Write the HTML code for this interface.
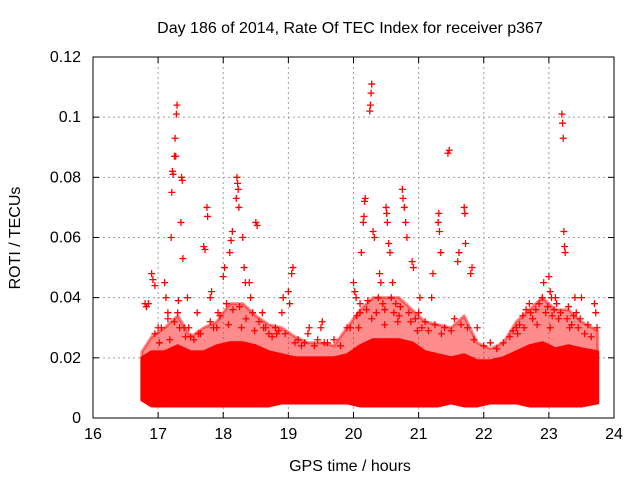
<!DOCTYPE html>
<html><head><meta charset="utf-8">
<style>
body{margin:0;background:#fff;}
svg text{font-family:"Liberation Sans",sans-serif;font-size:16px;fill:#000;}
</style></head>
<body>
<svg id="chart" width="640" height="480" xmlns="http://www.w3.org/2000/svg">
<rect width="640" height="480" fill="#fff"/>
<text x="350" y="33" text-anchor="middle">Day 186 of 2014, Rate Of TEC Index for receiver p367</text>
<text x="350" y="471" text-anchor="middle">GPS time / hours</text>
<text x="20" y="238" text-anchor="middle" transform="rotate(-90 20 238)">ROTI / TECUs</text>
<g id="grid"></g>
<g id="band"></g>
<g id="marks"></g>
<g id="axes"></g>
</svg>
<script>
const xTicks=[16,17,18,19,20,21,22,23,24];
const yTicks=[0,0.02,0.04,0.06,0.08,0.1,0.12];
const yTickLabels=["0","0.02","0.04","0.06","0.08","0.1","0.12"];
const bandTimes=[16.75,16.9,17.1,17.3,17.5,17.7,17.9,18.1,18.3,18.5,18.7,18.9,19.1,19.3,19.5,19.7,19.9,20.1,20.3,20.5,20.7,20.9,21.1,21.3,21.5,21.7,21.9,22.1,22.3,22.5,22.7,22.9,23.1,23.3,23.5,23.75];
const bandLow=[0.006,0.004,0.004,0.004,0.004,0.004,0.004,0.004,0.004,0.004,0.004,0.005,0.005,0.005,0.005,0.005,0.005,0.004,0.004,0.004,0.004,0.004,0.004,0.004,0.005,0.004,0.004,0.005,0.005,0.005,0.004,0.004,0.004,0.004,0.004,0.005];
const bandHigh=[0.02,0.022,0.022,0.024,0.022,0.022,0.024,0.025,0.025,0.024,0.022,0.021,0.02,0.02,0.02,0.02,0.021,0.024,0.026,0.026,0.026,0.025,0.022,0.021,0.02,0.021,0.019,0.019,0.02,0.022,0.024,0.025,0.023,0.024,0.023,0.022];
const midHigh=[0.022,0.027,0.03,0.034,0.027,0.03,0.032,0.038,0.038,0.034,0.031,0.03,0.027,0.025,0.025,0.024,0.03,0.036,0.04,0.04,0.04,0.036,0.032,0.031,0.03,0.034,0.025,0.023,0.025,0.032,0.036,0.04,0.036,0.036,0.032,0.029];
const ptTimes=[16.8,16.82,16.85,16.9,16.92,16.95,17.0,17.02,17.1,17.12,17.15,17.2,17.21,17.22,17.23,17.25,17.26,17.27,17.28,17.29,17.3,17.31,17.33,17.35,17.36,17.37,17.38,17.45,17.47,17.6,17.62,17.7,17.72,17.75,17.76,17.8,17.82,17.9,17.92,18.0,18.02,18.1,18.12,18.14,18.2,18.21,18.22,18.23,18.24,18.3,18.32,18.34,18.4,18.42,18.5,18.52,18.6,18.62,18.8,18.82,18.9,18.92,19.0,19.02,19.05,19.07,19.3,19.32,19.5,19.52,19.6,19.9,20.0,20.02,20.04,20.1,20.12,20.15,20.16,20.17,20.18,20.25,20.26,20.27,20.28,20.3,20.32,20.4,20.42,20.5,20.51,20.52,20.54,20.56,20.6,20.75,20.76,20.78,20.8,20.82,20.9,20.92,21.0,21.02,21.2,21.22,21.3,21.31,21.32,21.34,21.4,21.45,21.47,21.6,21.62,21.7,21.71,21.72,21.8,21.82,21.9,22.1,22.5,22.52,22.7,22.72,22.9,22.92,23.0,23.02,23.04,23.1,23.12,23.2,23.21,23.22,23.23,23.24,23.25,23.4,23.42,23.5,23.7,23.72,23.74];
const ptValues=[0.038,0.037,0.038,0.048,0.046,0.044,0.03,0.025,0.045,0.04,0.035,0.06,0.075,0.082,0.081,0.087,0.093,0.087,0.101,0.104,0.035,0.039,0.03,0.065,0.08,0.079,0.053,0.04,0.03,0.035,0.028,0.057,0.056,0.07,0.067,0.04,0.042,0.03,0.035,0.047,0.05,0.055,0.059,0.062,0.073,0.08,0.078,0.076,0.07,0.06,0.05,0.045,0.045,0.04,0.065,0.064,0.035,0.03,0.03,0.028,0.035,0.04,0.042,0.038,0.048,0.05,0.028,0.03,0.03,0.032,0.025,0.03,0.045,0.042,0.04,0.035,0.055,0.065,0.067,0.072,0.073,0.102,0.104,0.108,0.111,0.062,0.06,0.048,0.045,0.07,0.068,0.065,0.058,0.055,0.045,0.076,0.073,0.07,0.065,0.06,0.052,0.05,0.035,0.04,0.04,0.048,0.065,0.068,0.062,0.055,0.03,0.088,0.089,0.052,0.055,0.07,0.068,0.058,0.048,0.05,0.03,0.025,0.03,0.028,0.038,0.035,0.04,0.045,0.047,0.042,0.04,0.04,0.038,0.101,0.098,0.093,0.062,0.057,0.055,0.04,0.035,0.04,0.038,0.035,0.03];
const medTimes=[16.95,17.05,17.15,17.25,17.4,17.5,17.55,17.65,17.8,17.85,17.95,18.05,18.15,18.25,18.35,18.45,18.55,18.65,18.7,18.75,18.85,18.95,19.1,19.15,19.2,19.25,19.4,19.45,19.55,19.7,19.8,19.95,20.05,20.1,20.2,20.22,20.35,20.38,20.45,20.48,20.58,20.62,20.65,20.7,20.72,20.85,20.88,20.95,21.05,21.1,21.15,21.25,21.35,21.5,21.55,21.65,21.75,21.85,22.0,22.2,22.3,22.4,22.45,22.55,22.6,22.65,22.75,22.8,22.85,22.95,22.98,23.05,23.08,23.15,23.18,23.28,23.3,23.35,23.38,23.45,23.48,23.55,23.6,23.65,17.18,17.42,18.08,18.28,18.48,20.08,20.28,20.48,20.68,20.98,22.62,22.82,23.02,23.32];
const medValues=[0.028,0.03,0.033,0.032,0.03,0.027,0.026,0.028,0.032,0.03,0.034,0.038,0.036,0.037,0.033,0.035,0.032,0.03,0.028,0.027,0.029,0.028,0.025,0.026,0.024,0.025,0.024,0.026,0.025,0.026,0.024,0.03,0.034,0.038,0.036,0.039,0.035,0.04,0.038,0.036,0.04,0.035,0.038,0.034,0.037,0.035,0.032,0.033,0.03,0.032,0.029,0.031,0.028,0.029,0.033,0.031,0.03,0.026,0.024,0.023,0.025,0.027,0.029,0.031,0.034,0.036,0.033,0.036,0.038,0.035,0.037,0.034,0.036,0.033,0.035,0.033,0.037,0.031,0.034,0.03,0.033,0.028,0.031,0.027,0.026,0.027,0.031,0.03,0.029,0.03,0.033,0.031,0.032,0.029,0.03,0.031,0.03,0.03];

const L=93,R=614,T=57,B=418;
const xs=v=>L+(v-16)/8*(R-L);
const ys=v=>B-v/0.12*(B-T);
const NS="http://www.w3.org/2000/svg";
function mk(tag,attrs,parent){const e=document.createElementNS(NS,tag);for(const k in attrs)e.setAttribute(k,attrs[k]);parent.appendChild(e);return e;}
const grid=document.getElementById('grid'),axes=document.getElementById('axes'),band=document.getElementById('band'),marks=document.getElementById('marks');
xTicks.forEach((t,i)=>{
  const x=xs(t);
  if(i>0&&i<xTicks.length-1){const g=mk('line',{x1:x,x2:x,y1:T,y2:B,stroke:'#a0a0a0','stroke-dasharray':'2,3'},grid);
  
  }
  mk('line',{x1:x,x2:x,y1:B,y2:B-6,stroke:'#000'},axes);
  mk('line',{x1:x,x2:x,y1:T,y2:T+6,stroke:'#000'},axes);
  const tx=mk('text',{x:x,y:B+21,'text-anchor':'middle'},axes);tx.textContent=t;
  
  
});
yTicks.forEach((t,i)=>{
  const y=ys(t);
  if(i>0&&i<yTicks.length-1){const g=mk('line',{x1:L,x2:R,y1:y,y2:y,stroke:'#a0a0a0','stroke-dasharray':'2,3'},grid);
  
  }
  mk('line',{x1:L,x2:L+6,y1:y,y2:y,stroke:'#000'},axes);
  mk('line',{x1:R,x2:R-6,y1:y,y2:y,stroke:'#000'},axes);
  const tx=mk('text',{x:L-12,y:y+5,'text-anchor':'end'},axes);tx.textContent=yTickLabels[i];
  
  
});
const fr=mk('rect',{x:L,y:T,width:R-L,height:B-T,fill:'none',stroke:'#000'},axes);


function area(hi,lo,op,name){
  let d='M'+bandTimes.map((t,i)=>xs(t)+','+ys(hi[i])).join('L');
  for(let i=bandTimes.length-1;i>=0;i--)d+='L'+xs(bandTimes[i])+','+ys(lo[i]);
  const p=mk('path',{d:d+'Z',fill:'#ff0000','fill-opacity':op,stroke:'#ff0000','stroke-width':3,'stroke-linejoin':'round','stroke-opacity':op},band);
  
  
}
area(midHigh,bandHigh,0.45,'sparse-points-band');
area(bandHigh,bandLow,1,'dense-points-band');
function plus(t,v,name){
  const x=xs(t),y=ys(v);
  const p=mk('path',{d:`M${x-3.5},${y}H${x+3.5}M${x},${y-3.5}V${y+3.5}`,stroke:'#ff0000','stroke-width':1.3},marks);
  
  
}
ptTimes.forEach((t,i)=>plus(t,ptValues[i],'roti-point'));
medTimes.forEach((t,i)=>plus(t,medValues[i],'roti-point-mid'));
</script>
</body></html>
